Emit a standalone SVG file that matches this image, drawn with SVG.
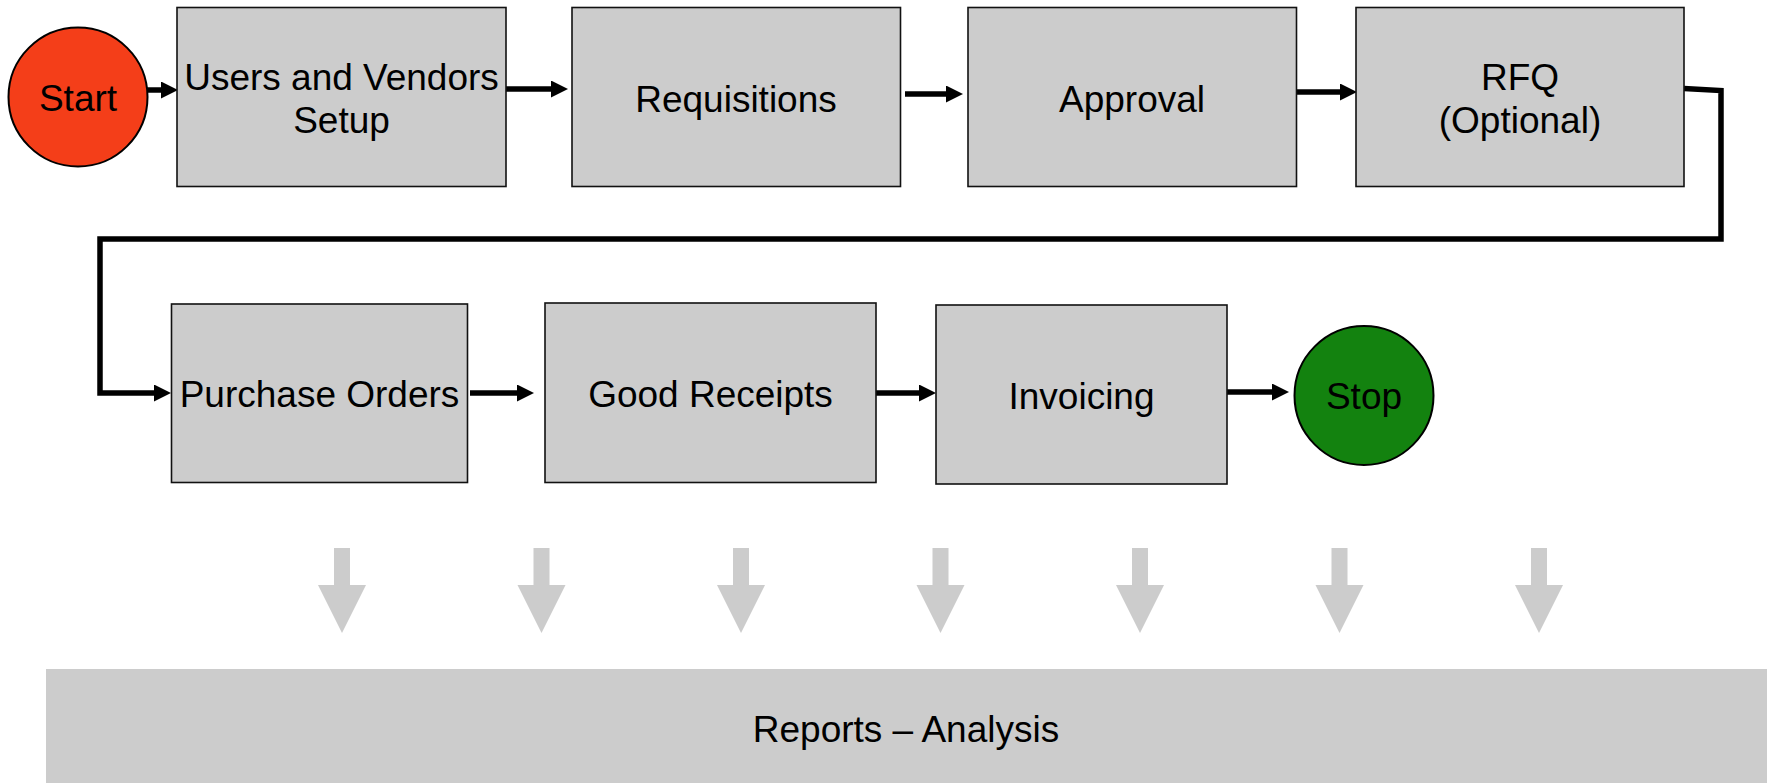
<svg xmlns="http://www.w3.org/2000/svg" width="1767" height="783" viewBox="0 0 1767 783">
<style>
.box{fill:#cccccc;stroke:#111;stroke-width:1.6}
.lbl{font-family:"Liberation Sans",Arial,sans-serif;font-size:37px;fill:#000;text-anchor:middle}
.con{fill:none;stroke:#000;stroke-width:5.5}
.garrow{fill:#cccccc}
</style>
<defs>
<marker id="ah" markerUnits="userSpaceOnUse" markerWidth="18" markerHeight="18" refX="1" refY="8.5" orient="auto">
<path d="M0,0 L17,8.5 L0,17 z" fill="#000"/>
</marker>
</defs>
<rect width="1767" height="783" fill="#ffffff"/>
<g id="connectors">
<line class="con" x1="147" y1="90" x2="162" y2="90" marker-end="url(#ah)"/>
<line class="con" x1="506" y1="89" x2="552" y2="89" marker-end="url(#ah)"/>
<line class="con" x1="905" y1="94" x2="947" y2="94" marker-end="url(#ah)"/>
<line class="con" x1="1297" y1="92" x2="1341" y2="92" marker-end="url(#ah)"/>
<path class="con" d="M1684,88.5 L1721,90.5 L1721,239 L100,239 L100,393 L155,393" marker-end="url(#ah)" stroke-linejoin="miter"/>
<line class="con" x1="470" y1="393" x2="518" y2="393" marker-end="url(#ah)"/>
<line class="con" x1="876" y1="393" x2="920" y2="393" marker-end="url(#ah)"/>
<line class="con" x1="1227" y1="392" x2="1273" y2="392" marker-end="url(#ah)"/>
</g>
<g id="start">
<circle cx="78" cy="97" r="69.5" fill="#f43e19" stroke="#000" stroke-width="2"/>
<text class="lbl" x="78" y="111">Start</text>
</g>
<g id="users-vendors">
<rect class="box" x="177" y="7.5" width="329" height="179"/>
<text class="lbl" x="341.5" y="90">Users and Vendors</text>
<text class="lbl" x="341.5" y="132.5">Setup</text>
</g>
<g id="requisitions">
<rect class="box" x="572" y="7.5" width="328.5" height="179"/>
<text class="lbl" x="736" y="111.5">Requisitions</text>
</g>
<g id="approval">
<rect class="box" x="968" y="7.5" width="328.5" height="179"/>
<text class="lbl" x="1132" y="111.5">Approval</text>
</g>
<g id="rfq">
<rect class="box" x="1356" y="7.5" width="328" height="179"/>
<text class="lbl" x="1520" y="90">RFQ</text>
<text class="lbl" x="1520" y="132.5">(Optional)</text>
</g>
<g id="purchase-orders">
<rect class="box" x="171.5" y="304" width="296" height="178.5"/>
<text class="lbl" x="319.5" y="407">Purchase Orders</text>
</g>
<g id="good-receipts">
<rect class="box" x="545" y="303" width="331" height="179.5"/>
<text class="lbl" x="710.5" y="407">Good Receipts</text>
</g>
<g id="invoicing">
<rect class="box" x="936" y="305" width="291" height="179"/>
<text class="lbl" x="1081.5" y="409">Invoicing</text>
</g>
<g id="stop">
<circle cx="1364" cy="395.5" r="69.5" fill="#13820f" stroke="#000" stroke-width="2"/>
<text class="lbl" x="1364" y="409">Stop</text>
</g>
<g id="report-arrows">
<polygon class="garrow" points="334,548 350,548 350,585 366,585 342,633 318,585 334,585"/>
<polygon class="garrow" points="533.5,548 549.5,548 549.5,585 565.5,585 541.5,633 517.5,585 533.5,585"/>
<polygon class="garrow" points="733,548 749,548 749,585 765,585 741,633 717,585 733,585"/>
<polygon class="garrow" points="932.5,548 948.5,548 948.5,585 964.5,585 940.5,633 916.5,585 932.5,585"/>
<polygon class="garrow" points="1132,548 1148,548 1148,585 1164,585 1140,633 1116,585 1132,585"/>
<polygon class="garrow" points="1331.5,548 1347.5,548 1347.5,585 1363.5,585 1339.5,633 1315.5,585 1331.5,585"/>
<polygon class="garrow" points="1531,548 1547,548 1547,585 1563,585 1539,633 1515,585 1531,585"/>
</g>
<g id="reports">
<rect x="46" y="669" width="1721" height="114" fill="#cccccc"/>
<text class="lbl" x="906" y="742">Reports – Analysis</text>
</g>
</svg>
